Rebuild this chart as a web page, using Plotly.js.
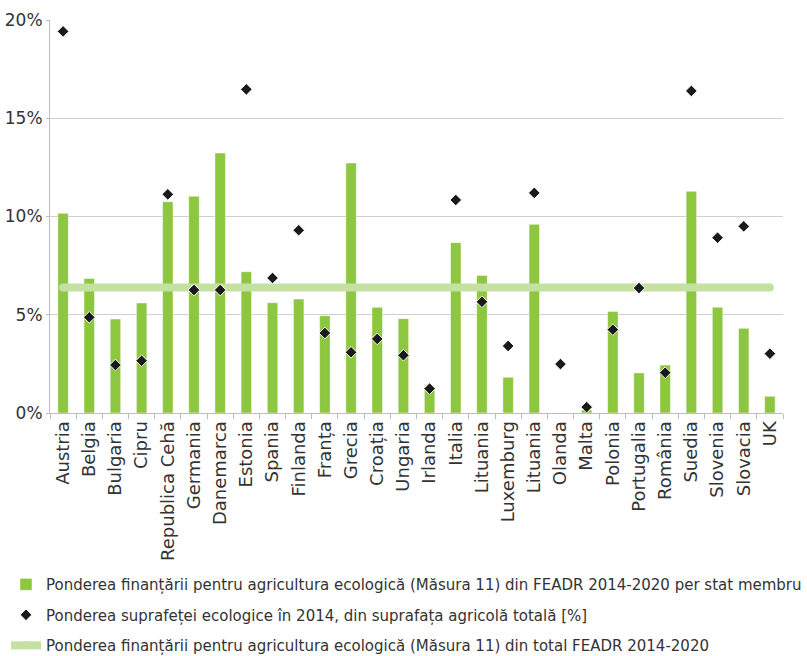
<!DOCTYPE html>
<html>
<head>
<meta charset="utf-8">
<script src="https://cdn.plot.ly/plotly-3.0.1.min.js"></script>
<style>html,body{margin:0;padding:0;background:#fff;}#chart{width:807px;height:656px;}</style>
</head>
<body>
<div id="chart"></div>
<script>
const countries = ["Austria","Belgia","Bulgaria","Cipru","Republica Cehă","Germania","Danemarca","Estonia","Spania","Finlanda","Franța","Grecia","Croația","Ungaria","Irlanda","Italia","Lituania","Luxemburg","Lituania","Olanda","Malta","Polonia","Portugalia","România","Suedia","Slovenia","Slovacia","UK"];
const fundingShare = [10.16,6.85,4.78,5.60,10.75,11.03,13.23,7.19,5.61,5.80,4.95,12.72,5.38,4.80,1.17,8.67,7.00,1.82,9.60,0,0.15,5.17,2.04,2.44,11.28,5.38,4.31,0.85];
const organicAreaShare = [19.42,4.87,2.44,2.66,11.13,6.26,6.26,16.47,6.87,9.30,4.07,3.09,3.77,2.94,1.24,10.84,5.66,3.41,11.20,2.49,0.30,4.24,6.36,2.05,16.39,8.92,9.50,3.02];
const totalFundingShare = 6.39;
const yTickVals = [0,5,10,15,20];
const yTickText = ["0%","5%","10%","15%","20%"];
const legendNames = [
  "Ponderea finanțării pentru agricultura ecologică (Măsura 11) din FEADR 2014-2020 per stat membru",
  "Ponderea suprafeței ecologice în 2014, din suprafața agricolă totală [%]",
  "Ponderea finanțării pentru agricultura ecologică (Măsura 11) din total FEADR 2014-2020"
];

const idx = countries.map((c,i)=>i);
const lastIdx = countries.length - 1;

const traces = [
  {
    type:'bar', x: idx, y: fundingShare, name: legendNames[0],
    marker:{color:'#8dc63f', line:{color:'rgba(255,255,255,0.6)', width:0.8}},
    width: 0.4, legendrank: 1, legendgroup:'a', hoverinfo:'skip'
  },
  {
    type:'scatter', mode:'lines+markers', x:[0, lastIdx], y:[totalFundingShare, totalFundingShare],
    name: legendNames[2],
    line:{color:'#c5e1a1', width:8},
    marker:{color:'#c5e1a1', size:8, symbol:'circle', line:{width:0}},
    legendrank: 3, legendgroup:'c', hoverinfo:'skip'
  },
  {
    type:'scatter', mode:'markers', x: idx, y: organicAreaShare, name: legendNames[1],
    marker:{symbol:'diamond', color:'#1a1a1a', size:9, line:{color:'#ffffff', width:1}},
    legendrank: 2, legendgroup:'b', hoverinfo:'skip'
  }
];

const font = {family:'"DejaVu Sans", sans-serif', color:'#333333'};

const layout = {
  width: 807, height: 656,
  margin:{l:50, r:24, t:20, b:243},
  paper_bgcolor:'#ffffff', plot_bgcolor:'#ffffff',
  font: Object.assign({size:14}, font),
  showlegend: true,
  legend:{
    xref:'paper', yref:'container',
    x:-0.045, xanchor:'left', y:0.134, yanchor:'top',
    orientation:'v', tracegroupgap: 8,
    font: Object.assign({size:15}, font),
    bgcolor:'rgba(0,0,0,0)'
  },
  xaxis:{
    type:'linear', range:[-0.5, lastIdx+0.5],
    tickmode:'array', tickvals: idx, ticktext: countries,
    tickangle:-90, ticks:'', showgrid:false, zeroline:false,
    showline:true, linecolor:'#bdbdbd', linewidth:1,
    tickfont: Object.assign({size:18}, font),
    automargin:false,
    minor:{tickmode:'array', tickvals: idx.map(i=>i-0.5).concat([lastIdx+0.5]), ticks:'outside', ticklen:5, tickcolor:'#bdbdbd', tickwidth:1, showgrid:false}
  },
  yaxis:{
    range:[0,20], tickmode:'array', tickvals: yTickVals, ticktext: yTickText,
    showgrid:true, gridcolor:'#cfcfcf', gridwidth:1.2, zeroline:false,
    showline:true, linecolor:'#bdbdbd', linewidth:1,
    ticks:'outside', ticklen:3, tickcolor:'#bdbdbd',
    tickfont: Object.assign({size:17}, font),
    automargin:false
  },
  bargap: 0.6
};

Plotly.newPlot('chart', traces, layout, {displayModeBar:false, staticPlot:true});
</script>
</body>
</html>
